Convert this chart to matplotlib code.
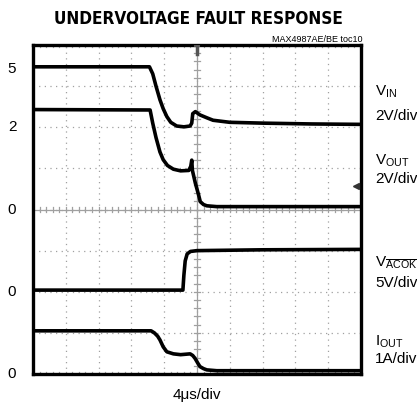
import matplotlib
matplotlib.use("Agg")
import matplotlib.pyplot as plt
from matplotlib import font_manager

narrow = "Liberation Sans Narrow"
names = {f.name for f in font_manager.fontManager.ttflist}
if narrow not in names:
    narrow = "Liberation Sans"
has_condensed = any(f.name == "DejaVu Sans" and f.stretch == 'condensed' and f.weight in (700, 'bold')
                    for f in font_manager.fontManager.ttflist)
plt.rcParams['font.family'] = [narrow, 'DejaVu Sans']
plt.rcParams['mathtext.fontset'] = 'custom'
plt.rcParams['mathtext.rm'] = narrow
plt.rcParams['mathtext.it'] = narrow

# traces (time in divisions, level in divisions)
vin_t = [0, 3.55, 3.65, 3.75, 3.87, 3.97, 4.08, 4.2, 4.38, 4.6, 4.79, 4.84, 4.87, 4.95, 5.09, 5.3, 5.49, 6.0, 7.0, 8.5, 10]
vin_y = [7.47, 7.47, 7.3, 7.0, 6.67, 6.45, 6.26, 6.12, 6.03, 6.01, 6.03, 6.1, 6.33, 6.38, 6.3, 6.23, 6.17, 6.12, 6.1, 6.08, 6.07]

vout_t = [0, 3.57, 3.65, 3.75, 3.87, 3.97, 4.1, 4.28, 4.5, 4.75, 4.81, 4.84, 4.86, 4.95, 5.05, 5.1, 5.2, 5.3, 5.6, 10]
vout_y = [6.43, 6.42, 6.1, 5.75, 5.4, 5.21, 5.07, 4.98, 4.94, 4.95, 5.05, 5.2, 4.95, 4.64, 4.35, 4.19, 4.12, 4.09, 4.07, 4.07]

acok_t = [0, 4.57, 4.6, 4.64, 4.7, 4.8, 5.0, 7.0, 10]
acok_y = [2.04, 2.04, 2.4, 2.75, 2.92, 2.98, 3.0, 3.02, 3.03]

iout_t = [0, 3.6, 3.7, 3.8, 3.87, 3.97, 4.08, 4.28, 4.5, 4.79, 4.87, 4.94, 5.02, 5.09, 5.2, 5.3, 5.6, 10]
iout_y = [1.05, 1.05, 1.0, 0.92, 0.83, 0.66, 0.54, 0.49, 0.47, 0.49, 0.45, 0.38, 0.27, 0.18, 0.13, 0.1, 0.08, 0.08]

left_labels = ["5", "2", "0", "0", "0"]
left_pos = [7.42, 6.0, 4.0, 2.0, 0.0]

right_labels = [r"V$_{\mathrm{IN}}$", "2V/div", r"V$_{\mathrm{OUT}}$", "2V/div",
                r"V$_{\overline{\mathrm{ACOK}}}$", "5V/div", r"I$_{\mathrm{OUT}}$", "1A/div"]
right_pos = [6.85, 6.27, 5.19, 4.74, 2.71, 2.22, 0.78, 0.36]

fig = plt.figure(figsize=(4.17, 4.08), dpi=100)
ax = fig.add_axes([33/417, 1 - 374/408, 328/417, 329/408])
ax.set_xlim(0, 10)
ax.set_ylim(0, 8)

gcol = '#a0a0a0'
# dotted grid
for i in range(1, 10):
    ax.plot([i, i], [0, 8], color=gcol, lw=0.9, ls=(0, (1, 3.5)), zorder=1)
for j in range(1, 8):
    ax.plot([0, 10], [j, j], color=gcol, lw=0.9, ls=(0, (1, 3.5)), zorder=1)
# center axes with minor ticks
ax.axhline(4, color=gcol, lw=0.9, zorder=1)
ax.axvline(5, color=gcol, lw=0.9, zorder=1)
for k in range(1, 50):
    x = k * 0.2
    ax.plot([x, x], [3.93, 4.07], color=gcol, lw=0.9, zorder=1)
for k in range(1, 40):
    y = k * 0.2
    ax.plot([4.9, 5.1], [y, y], color=gcol, lw=0.9, zorder=1)
# border ticks
for k in range(1, 50):
    x = k * 0.2
    ax.plot([x, x], [0, 0.06], color=gcol, lw=0.9, zorder=1)
    ax.plot([x, x], [7.94, 8], color=gcol, lw=0.9, zorder=1)

for t, y in [(vin_t, vin_y), (vout_t, vout_y), (acok_t, acok_y), (iout_t, iout_y)]:
    ax.plot(t, y, color='black', lw=2.6, solid_joinstyle='round', zorder=3)

# trigger markers
ax.plot([5, 5], [7.77, 7.97], color='#555555', lw=2.5, zorder=4)
ax.plot([4.93, 5.07], [7.97, 7.97], color='#555555', lw=1.5, zorder=4)
ax.plot([9.86], [4.57], marker='<', color='#333333', ms=4, zorder=4)

ax.set_xticks([])
ax.set_yticks([])
for s in ax.spines.values():
    s.set_linewidth(2.4)

for lab, y in zip(left_labels, left_pos):
    ax.text(-0.64, y, lab, fontsize=11, ha='center', va='center')

for lab, y in zip(right_labels, right_pos):
    ax.text(10.43, y, lab, fontsize=11, ha='left', va='center')

ax.text(5, -0.5, "4\u03bcs/div", fontsize=11, ha='center', va='center')

if has_condensed:
    fig.text(198/417, 1 - 19/408, "UNDERVOLTAGE FAULT RESPONSE", fontsize=12.3,
             family='DejaVu Sans', fontstretch='condensed', fontweight='bold',
             ha='center', va='center')
else:
    fig.text(198/417, 1 - 19/408, "UNDERVOLTAGE FAULT RESPONSE", fontsize=11.5,
             fontweight='bold', ha='center', va='center')
fig.text(362/417, 1 - 40/408, "MAX4987AE/BE toc10", fontsize=6.5, ha='right', va='center')

fig.savefig("out.png", dpi=100)
